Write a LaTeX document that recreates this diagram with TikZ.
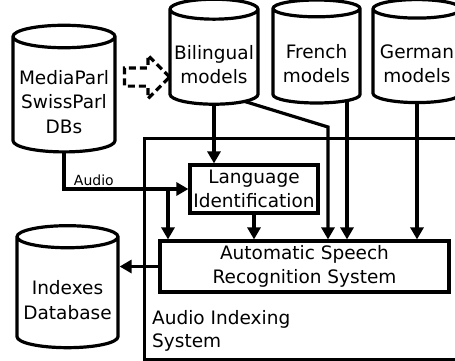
\documentclass[tikz,border=0pt]{standalone}
\usepackage{fontspec}
\setmainfont{DejaVu Sans}
\usetikzlibrary{shapes.geometric,shapes.arrows,arrows.meta,backgrounds}
\newcommand\dbtext[1]{\raisebox{0pt}[\dimexpr\height+18pt\relax][\depth]{\renewcommand\arraystretch{1.04}\begin{tabular}{@{}c@{}}#1\end{tabular}}}
\tikzset{
  db/.style={cylinder, shape border rotate=90, draw, fill=white, line width=3.2pt, aspect=0.25, inner sep=0pt},
  box/.style={draw, fill=white, line width=3.2pt, align=center, inner sep=0pt},
  link/.style={line width=3.2pt, -{Triangle[length=12pt,width=13pt]}},
}
\begin{document}
\begin{tikzpicture}[x=1pt,y=-1pt,font=\fontsize{18.5}{23.5}\selectfont]
        %画布范围
        \path[use as bounding box, clip] (0,0) rectangle (455,360);
        %大框
        \node[draw, line width=3.2pt, minimum width=330pt, minimum height=221pt, anchor=north west, inner sep=0pt] (ais) at (143,137) {};
        \node[anchor=south west, align=left, inner sep=0pt] (aislbl) at (152,352) {Audio Indexing\\System};
        %数据库
        \node[db, minimum width=102pt, minimum height=110pt] (mp) at (64,95) {\dbtext{MediaParl\\SwissParl\\DBs}};
        \node[db, minimum width=101pt, minimum height=122pt] (idx) at (67.5,293) {\dbtext{Indexes\\Database}};
        %模型
        \node[db, minimum width=88pt, minimum height=105pt] (bil) at (214,57.5) {\dbtext{Bilingual\\models}};
        \node[db, minimum width=87pt, minimum height=103pt] (fr) at (316.5,56.5) {\dbtext{French\\models}};
        \node[db, minimum width=88pt, minimum height=103pt] (de) at (417,56.5) {\dbtext{German\\models}};
        %虚线箭头
        \node[single arrow, draw, dash pattern=on 7pt off 4pt, line width=3.2pt, minimum height=45pt, inner sep=7.5pt, single arrow head extend=12.5pt] (dasharr) at (142.5,77) {};
        %方框
        \node[box, minimum width=128pt, minimum height=48pt] (lid) at (254,189) {Language\\Identification};
        \node[box, minimum width=289pt, minimum height=51pt] (asr) at (304.5,266.5) {Automatic Speech\\Recognition System};
        %连线
        \begin{pgfonlayer}{background}
        \coordinate (split) at (168,190);
        \coordinate (bend) at (328,127);
        \draw[link] (mp.center) |- node[above, pos=0.62, inner sep=2pt, font=\fontsize{14}{16}\selectfont] (audiolbl) {Audio} (lid.west);
        \draw[link] (split) -- (split |- asr.north);
        \draw[link] (bil.center) -- (bil.center |- lid.north);
        \draw[link] ([shift={(26,42.5)}]bil.center) -- (bend) -- (bend |- asr.north);
        \draw[link] ([xshift=30.5pt]fr.center) -- ([xshift=30.5pt]fr.center |- asr.north);
        \draw[link] (de.center) -- (de.center |- asr.north);
        \draw[link] (lid.south) -- (lid.south |- asr.north);
        \draw[link] (asr.west) -- (asr.west -| idx.east);
        \end{pgfonlayer}
\end{tikzpicture}
\end{document}
